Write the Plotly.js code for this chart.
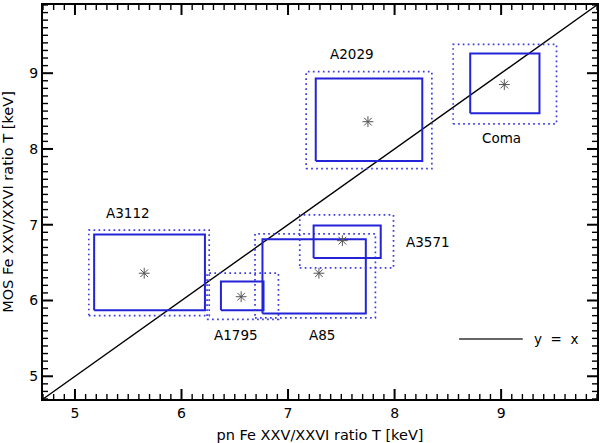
<!DOCTYPE html>
<html>
<head>
<meta charset="utf-8">
<script src="https://cdn.plot.ly/plotly-3.0.1.min.js"></script>
<style>
  html, body { margin: 0; padding: 0; background: #fff; }
  #chart { width: 600px; height: 443px; }
</style>
</head>
<body>
<div id="chart"></div>
<script>
// Cluster temperatures from the Fe XXV/XXVI line ratio, pn vs MOS
const clusters = ['A2029', 'Coma', 'A3112', 'A1795', 'A85', 'A3571'];
const pnT  = [7.75, 9.03, 5.65, 6.56, 7.29, 7.51];
const mosT = [8.36, 8.85, 6.36, 6.05, 6.36, 6.79];

// statistical error boxes (solid)
const pnLo  = [7.26, 8.71, 5.18, 6.37, 6.76, 7.24];
const pnHi  = [8.26, 9.36, 6.22, 6.77, 7.73, 7.87];
const mosLo = [7.84, 8.47, 5.87, 5.87, 5.83, 6.56];
const mosHi = [8.93, 9.26, 6.87, 6.25, 6.81, 6.99];

// statistical + systematic error boxes (dotted)
const pnLoSys  = [7.17, 8.55, 5.13, 6.24, 6.69, 7.11];
const pnHiSys  = [8.35, 9.52, 6.26, 6.91, 7.82, 7.99];
const mosLoSys = [7.74, 8.33, 5.80, 5.75, 5.77, 6.43];
const mosHiSys = [9.02, 9.38, 6.93, 6.36, 6.88, 7.13];

// where the cluster names sit (data coords)
const labelX = [7.60, 9.00, 5.50, 6.51, 7.32, 8.31];
const labelY = [9.25, 8.15, 7.15, 5.55, 5.55, 6.77];

const tickVals = [5, 6, 7, 8, 9];
const axisRange = [4.7, 9.9];
const blue = 'rgb(35,35,215)';
const font = 'DejaVu Sans, sans-serif';

const W = 600, H = 443;
const margin = { l: 43, r: 3, t: 5, b: 44 };
const pxPerX = (W - margin.l - margin.r) / (axisRange[1] - axisRange[0]);
const pxPerY = (H - margin.t - margin.b) / (axisRange[1] - axisRange[0]);

function boxTrace(x0, x1, y0, y1, solid) {
    return {
        x: [x0, x1, x1, x0, x0],
        y: [y0, y0, y1, y1, y0],
        mode: 'lines',
        type: 'scatter',
        line: solid
            ? { color: blue, width: 2, dash: 'solid' }
            : { color: 'rgb(60,60,225)', width: 1.7, dash: '1.7px,3.3px' },
        hoverinfo: 'skip',
        showlegend: false
    };
}

// IDL-style inward ticks on all four edges, built as one line trace per tick size
function tickTrace(major) {
    const xs = [], ys = [];
    const lenX = (major ? 10 : 5) / pxPerX;
    const lenY = (major ? 10 : 5) / pxPerY;
    const [lo, hi] = axisRange;
    for (let k = 47; k <= 99; k++) {
        if ((k % 10 === 0) !== major) continue;
        const v = k / 10;
        xs.push(v, v, null, v, v, null, lo, lo + lenX, null, hi, hi - lenX, null);
        ys.push(lo, lo + lenY, null, hi, hi - lenY, null, v, v, null, v, v, null);
    }
    return {
        x: xs, y: ys,
        mode: 'lines',
        type: 'scatter',
        line: { color: '#000', width: major ? 2 : 1.4 },
        connectgaps: false,
        hoverinfo: 'skip',
        showlegend: false
    };
}

const traces = [];

// y = x reference line
traces.push({
    x: axisRange,
    y: axisRange,
    mode: 'lines',
    type: 'scatter',
    line: { color: '#000', width: 1.4 },
    showlegend: false
});

clusters.forEach((c, i) => {
    traces.push(boxTrace(pnLoSys[i], pnHiSys[i], mosLoSys[i], mosHiSys[i], false));
    traces.push(boxTrace(pnLo[i], pnHi[i], mosLo[i], mosHi[i], true));
});

traces.push({
    x: pnT,
    y: mosT,
    text: clusters,
    mode: 'markers',
    type: 'scatter',
    marker: {
        symbol: 'asterisk-open',
        size: 9,
        color: '#555',
        line: { color: '#555', width: 1 }
    },
    showlegend: false
});

traces.push(tickTrace(true));
traces.push(tickTrace(false));

const annotations = clusters.map((c, i) => ({
    x: labelX[i],
    y: labelY[i],
    text: c,
    showarrow: false,
    font: { family: font, size: 13.5, color: '#000' }
}));

// legend: short line + label
annotations.push({
    xref: 'paper', yref: 'paper',
    x: 0.883, y: 0.152,
    xanchor: 'left', yanchor: 'middle',
    text: 'y  =  x',
    showarrow: false,
    font: { family: font, size: 13.5, color: '#000' }
});

const shapes = [{
    type: 'line',
    xref: 'paper', yref: 'paper',
    x0: 0.751, x1: 0.866, y0: 0.152, y1: 0.152,
    line: { color: '#333', width: 1.5 }
}];

function axis(titleText) {
    return {
        range: axisRange,
        autorange: false,
        tickmode: 'array',
        tickvals: tickVals,
        ticks: '',
        showline: true,
        linecolor: '#000',
        linewidth: 2,
        mirror: true,
        showgrid: false,
        zeroline: false,
        tickfont: { family: font, size: 14, color: '#000' },
        title: { text: titleText, font: { family: font, size: 14.5, color: '#000' } }
    };
}

const layout = {
    width: W,
    height: H,
    margin: margin,
    paper_bgcolor: '#fff',
    plot_bgcolor: '#fff',
    showlegend: false,
    xaxis: axis('pn Fe XXV/XXVI ratio T [keV]'),
    yaxis: axis('MOS Fe XXV/XXVI ratio T [keV]'),
    annotations: annotations,
    shapes: shapes
};

Plotly.newPlot('chart', traces, layout, { displayModeBar: false, staticPlot: true });
</script>
</body>
</html>
